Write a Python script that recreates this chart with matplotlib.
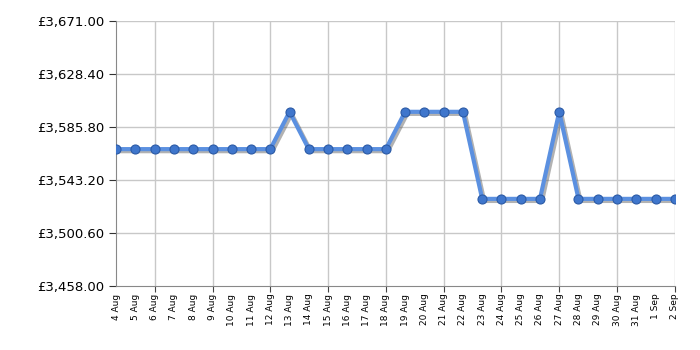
import matplotlib
matplotlib.use("Agg")
import matplotlib.pyplot as plt
import matplotlib.patheffects as pe
import numpy as np

# Data
dates = ["4 Aug", "5 Aug", "6 Aug", "7 Aug", "8 Aug", "9 Aug", "10 Aug", "11 Aug",
         "12 Aug", "13 Aug", "14 Aug", "15 Aug", "16 Aug", "17 Aug", "18 Aug",
         "19 Aug", "20 Aug", "21 Aug", "22 Aug", "23 Aug", "24 Aug", "25 Aug",
         "26 Aug", "27 Aug", "28 Aug", "29 Aug", "30 Aug", "31 Aug", "1 Sep", "2 Sep"]
prices = [3568, 3568, 3568, 3568, 3568, 3568, 3568, 3568, 3568, 3598,
          3568, 3568, 3568, 3568, 3568, 3598, 3598, 3598, 3598, 3528,
          3528, 3528, 3528, 3598, 3528, 3528, 3528, 3528, 3528, 3528]
y_ticks = [3458.00, 3500.60, 3543.20, 3585.80, 3628.40, 3671.00]

x = np.arange(len(dates))

fig = plt.figure(figsize=(7, 3.5), dpi=100)
ax = fig.add_axes([0.166, 0.183, 0.798, 0.757])

ax.plot(x, prices, color="#5b90e0", linewidth=3, solid_joinstyle="round",
        path_effects=[pe.SimpleLineShadow(offset=(1.5, -1.5), shadow_color="#555555", alpha=0.45),
                      pe.Normal()], zorder=3)
ax.plot(x, prices, linestyle="none", marker="o", markersize=6.5,
        markerfacecolor="#3f76cc", markeredgecolor="#2b5aa6", markeredgewidth=0.8, zorder=4)

ax.set_xlim(0, len(dates) - 1)
ax.set_ylim(y_ticks[0], y_ticks[-1])

ax.set_yticks(y_ticks)
ax.set_yticklabels([f"£{v:,.2f}" for v in y_ticks], fontsize=9.5)

# labels on every day, tick marks + grid every third day
ax.set_xticks(x)
ax.set_xticklabels(dates, rotation=90, fontsize=6.5)
ax.tick_params(axis="x", length=4, color="#444444", pad=1.5)
for i, t in enumerate(ax.xaxis.get_major_ticks()):
    t.tick1line.set_visible(i % 3 == 2)
ax.tick_params(axis="y", length=5, color="#333333")

ax.grid(False)
for xi in x[2::3]:
    ax.axvline(xi, color="#c8c8c8", linewidth=1, zorder=1)
for yv in y_ticks[1:]:
    ax.axhline(yv, color="#c8c8c8", linewidth=1, zorder=1)

for side in ["top", "right"]:
    ax.spines[side].set_visible(False)
ax.spines["left"].set_color("#888888")
ax.spines["bottom"].set_color("#888888")

plt.savefig("out.png", dpi=100)
